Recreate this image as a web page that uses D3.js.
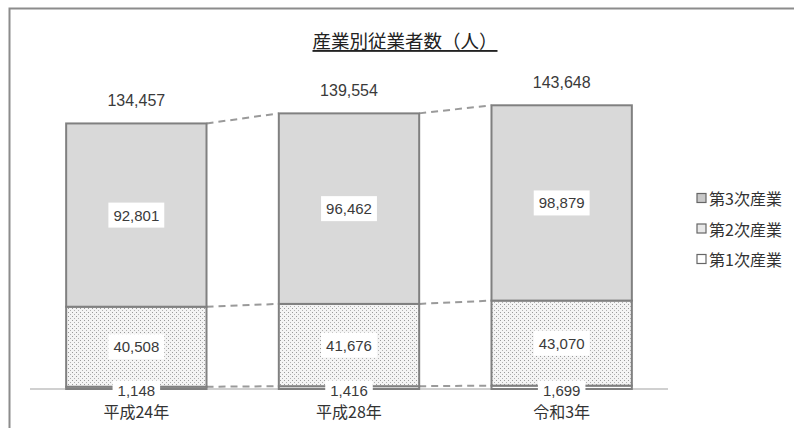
<!DOCTYPE html>
<html>
<head>
<meta charset="utf-8">
<script src="https://cdn.jsdelivr.net/npm/d3@7"></script>
<style>
  html, body { margin: 0; padding: 0; background: #fff; }
  svg { display: block; font-family: "Liberation Sans", Arial, "Noto Sans CJK JP", sans-serif; }
</style>
</head>
<body>
<svg id="chart" width="794" height="428"></svg>
<script>
// 産業別従業者数
const years = ["平成24年", "平成28年", "令和3年"];
const seriesNames = ["第1次産業", "第2次産業", "第3次産業"];
const primary = [1148, 1416, 1699];
const secondary = [40508, 41676, 43070];
const tertiary = [92801, 96462, 98879];
const totals = [134457, 139554, 143648];
const yMax = 160000;

const svg = d3.select("#chart");
const W = 794, H = 428;
const plot = { left: 30, right: 668, top: 73, bottom: 389 };

// frame
svg.append("path")
  .attr("d", `M9.5,${H} V8.5 H${W}`)
  .attr("fill", "none").attr("stroke", "#8c8c8c").attr("stroke-width", 2);

// stipple pattern for 第2次産業
const defs = svg.append("defs");
const pat = defs.append("pattern").attr("id", "dots")
  .attr("patternUnits", "userSpaceOnUse").attr("width", 4).attr("height", 4);
pat.append("rect").attr("width", 4).attr("height", 4).attr("fill", "#f4f4f4");
pat.append("rect").attr("x", 0).attr("y", 0).attr("width", 1).attr("height", 1).attr("fill", "#9a9a9a");
pat.append("rect").attr("x", 2).attr("y", 2).attr("width", 1).attr("height", 1).attr("fill", "#b0b0b0");

const x = d3.scaleBand().domain(years).range([plot.left, plot.right]).paddingInner(0.34).paddingOuter(0.17);
const y = d3.scaleLinear().domain([0, yMax]).range([plot.bottom, plot.top]);

const rows = years.map((yr, i) => ({ year: yr, "第1次産業": primary[i], "第2次産業": secondary[i], "第3次産業": tertiary[i] }));
const stacked = d3.stack().keys(seriesNames)(rows);
const fills = { "第1次産業": "#ffffff", "第2次産業": "url(#dots)", "第3次産業": "#d9d9d9" };
const legendFills = { "第1次産業": "#ffffff", "第2次産業": "#e8e8e8", "第3次産業": "#c8c8c8" };

// axis baseline
svg.append("line")
  .attr("x1", plot.left).attr("x2", plot.right)
  .attr("y1", y(0)).attr("y2", y(0))
  .attr("stroke", "#d0d0d0").attr("stroke-width", 2);

// dashed series lines between bars
stacked.forEach(layer => {
  for (let i = 0; i < years.length - 1; i++) {
    svg.append("line")
      .attr("x1", x(years[i]) + x.bandwidth()).attr("y1", y(layer[i][1]))
      .attr("x2", x(years[i + 1])).attr("y2", y(layer[i + 1][1]))
      .attr("stroke", "#9a9a9a").attr("stroke-width", 2)
      .attr("stroke-dasharray", "7,5");
  }
});

// bars
stacked.forEach(layer => {
  svg.append("g").selectAll("rect").data(layer).join("rect")
    .attr("x", d => x(d.data.year))
    .attr("y", d => y(d[1]))
    .attr("width", x.bandwidth())
    .attr("height", d => y(d[0]) - y(d[1]))
    .attr("fill", fills[layer.key])
    .attr("stroke", "#808080").attr("stroke-width", 2);
});

const fmt = d3.format(",");

// value labels on white boxes
function boxLabel(cx, cy, text, padY) {
  const g = svg.append("g");
  const t = g.append("text").attr("x", cx).attr("y", cy).attr("text-anchor", "middle")
    .attr("dominant-baseline", "central").attr("font-size", 15).attr("fill", "#3a3a3a").text(text);
  const bb = t.node().getBBox();
  g.insert("rect", "text").attr("x", bb.x - 5).attr("y", bb.y - padY)
    .attr("width", bb.width + 10).attr("height", bb.height + 2 * padY).attr("fill", "#fff");
}
stacked.forEach(layer => {
  layer.forEach(d => {
    const cx = x(d.data.year) + x.bandwidth() / 2;
    const bottomLayer = layer.key === "第1次産業";
    const cy = bottomLayer ? y(0) + 1 : (y(d[0]) + y(d[1])) / 2;
    boxLabel(cx, cy, fmt(d[1] - d[0]), bottomLayer ? 1 : 4);
  });
});

// totals
svg.append("g").selectAll("text").data(totals).join("text")
  .attr("x", (d, i) => x(years[i]) + x.bandwidth() / 2)
  .attr("y", d => y(d) - 23)
  .attr("text-anchor", "middle").attr("dominant-baseline", "central")
  .attr("font-size", 16).attr("fill", "#3a3a3a").text(d => fmt(d));

// category labels
svg.append("g").selectAll("text").data(years).join("text")
  .attr("x", d => x(d) + x.bandwidth() / 2)
  .attr("y", 411)
  .attr("text-anchor", "middle").attr("dominant-baseline", "central")
  .attr("font-size", 16).attr("fill", "#333")
  .style("font-family", "'Noto Sans CJK JP', sans-serif").text(d => d);

// title
svg.append("text").attr("x", 405).attr("y", 40)
  .attr("text-anchor", "middle").attr("dominant-baseline", "central")
  .attr("font-size", 18.5).attr("fill", "#222").attr("text-decoration", "underline")
  .style("font-family", "'Noto Sans CJK JP', sans-serif")
  .text("産業別従業者数（人）");

// legend (top entry is the top segment)
const legendOrder = seriesNames.slice().reverse();
const lg = svg.append("g").selectAll("g").data(legendOrder).join("g")
  .attr("transform", (d, i) => `translate(697,${198 + i * 30.5})`);
lg.append("rect").attr("x", 0).attr("y", -4.5).attr("width", 9).attr("height", 9)
  .attr("fill", d => legendFills[d]).attr("stroke", "#666").attr("stroke-width", 1.2);
lg.append("text").attr("x", 12).attr("y", 0).attr("dominant-baseline", "central")
  .attr("font-size", 16).attr("fill", "#333")
  .style("font-family", "'Noto Sans CJK JP', sans-serif").text(d => d);
</script>
</body>
</html>
